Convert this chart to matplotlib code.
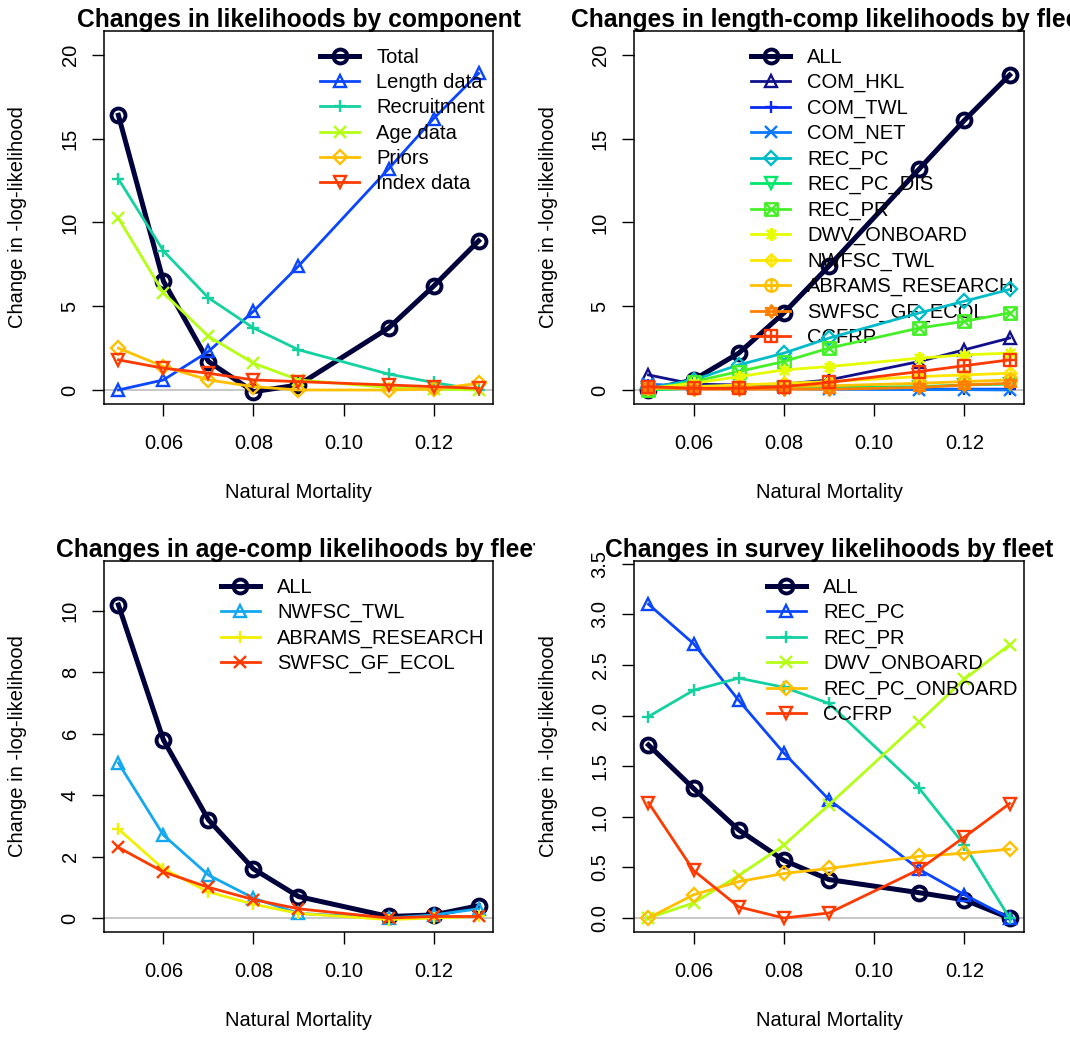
import matplotlib
matplotlib.use("Agg")
import matplotlib.pyplot as plt
from matplotlib.path import Path
from matplotlib.transforms import Bbox, TransformedBbox

plt.rcParams['font.family'] = ['Liberation Sans', 'DejaVu Sans']

# natural mortality values of the profile
M = [0.05, 0.06, 0.07, 0.08, 0.09, 0.11, 0.12, 0.13]

# panel 1: by component
comp_labels = ["Total", "Length data", "Recruitment", "Age data", "Priors", "Index data"]
comp_total = [16.4, 6.5, 1.7, -0.1, 0.3, 3.7, 6.2, 8.9]
comp_length = [0.0, 0.6, 2.3, 4.7, 7.4, 13.2, 16.2, 18.9]
comp_recr = [12.6, 8.3, 5.5, 3.7, 2.4, 0.95, 0.45, 0.0]
comp_age = [10.25, 5.8, 3.2, 1.6, 0.6, 0.15, 0.05, 0.0]
comp_priors = [2.5, 1.4, 0.6, 0.2, 0.0, 0.0, 0.05, 0.4]
comp_index = [1.8, 1.3, 1.0, 0.6, 0.5, 0.3, 0.2, 0.1]

# panel 2: length comps by fleet
len_labels = ["ALL", "COM_HKL", "COM_TWL", "COM_NET", "REC_PC", "REC_PC_DIS", "REC_PR",
              "DWV_ONBOARD", "NWFSC_TWL", "ABRAMS_RESEARCH", "SWFSC_GF_ECOL", "CCFRP"]
len_all = [0.0, 0.6, 2.2, 4.6, 7.4, 13.2, 16.1, 18.8]
len_com_hkl = [0.9, 0.35, 0.3, 0.35, 0.6, 1.7, 2.4, 3.1]
len_com_twl = [0.3, 0.25, 0.2, 0.15, 0.1, 0.05, 0.05, 0.05]
len_com_net = [0.35, 0.2, 0.15, 0.1, 0.05, 0.02, 0.02, 0.0]
len_rec_pc = [0.1, 0.6, 1.5, 2.2, 3.1, 4.6, 5.3, 6.0]
len_rec_pc_dis = [0.0, 0.1, 0.1, 0.1, 0.15, 0.2, 0.3, 0.35]
len_rec_pr = [0.0, 0.5, 1.1, 1.7, 2.5, 3.7, 4.1, 4.6]
len_dwv = [0.1, 0.4, 0.8, 1.2, 1.4, 1.9, 2.1, 2.2]
len_nwfsc = [0.1, 0.2, 0.3, 0.4, 0.5, 0.8, 0.9, 1.0]
len_abrams = [0.1, 0.1, 0.15, 0.2, 0.25, 0.4, 0.5, 0.6]
len_swfsc = [0.2, 0.05, 0.05, 0.05, 0.05, 0.15, 0.3, 0.4]
len_ccfrp = [0.2, 0.1, 0.1, 0.2, 0.45, 1.1, 1.45, 1.8]

# panel 3: age comps by fleet
age_labels = ["ALL", "NWFSC_TWL", "ABRAMS_RESEARCH", "SWFSC_GF_ECOL"]
age_all = [10.2, 5.8, 3.2, 1.6, 0.7, 0.05, 0.1, 0.4]
age_nwfsc = [5.05, 2.7, 1.4, 0.65, 0.15, 0.0, 0.1, 0.3]
age_abrams = [2.9, 1.6, 0.85, 0.45, 0.15, -0.05, 0.0, 0.05]
age_swfsc = [2.3, 1.5, 1.0, 0.6, 0.3, 0.0, 0.05, 0.05]

# panel 4: surveys by fleet
srv_labels = ["ALL", "REC_PC", "REC_PR", "DWV_ONBOARD", "REC_PC_ONBOARD", "CCFRP"]
srv_all = [1.71, 1.28, 0.87, 0.57, 0.38, 0.25, 0.18, 0.0]
srv_rec_pc = [3.1, 2.71, 2.15, 1.63, 1.17, 0.48, 0.23, 0.0]
srv_rec_pr = [1.99, 2.25, 2.37, 2.28, 2.12, 1.28, 0.72, 0.0]
srv_dwv = [0.0, 0.15, 0.42, 0.72, 1.12, 1.94, 2.36, 2.7]
srv_rec_pc_onb = [0.0, 0.23, 0.36, 0.44, 0.49, 0.61, 0.64, 0.68]
srv_ccfrp = [1.14, 0.47, 0.11, 0.0, 0.05, 0.48, 0.8, 1.13]

navy = "#00003D"
comp_colors = [navy, "#0A46FF", "#14D2A0", "#B4FF14", "#FFC000", "#FF3A00"]
len_colors = [navy, "#10108C", "#0A28F0", "#0A78FF", "#00BCC8", "#00E86A",
              "#46F028", "#E6FF00", "#FFE600", "#FFC000", "#FF8000", "#FF3A00"]
age_colors = [navy, "#14A8F0", "#F0F000", "#FF3A00"]
srv_colors = comp_colors

# R style pch symbols
MV, LN, CL = Path.MOVETO, Path.LINETO, Path.CLOSEPOLY
sq = Path([(-1, -1), (1, -1), (1, 1), (-1, 1), (-1, -1)], [MV, LN, LN, LN, CL])
xx = Path([(-1, -1), (1, 1), (-1, 1), (1, -1)], [MV, LN, MV, LN])
pl = Path([(-1.3, 0), (1.3, 0), (0, -1.3), (0, 1.3)], [MV, LN, MV, LN])
pl_sq = Path([(-1, 0), (1, 0), (0, -1), (0, 1)], [MV, LN, MV, LN])
dia = Path([(0, -1.3), (1.3, 0), (0, 1.3), (-1.3, 0), (0, -1.3)], [MV, LN, LN, LN, CL])
circ = Path.unit_circle()
tu = Path([(-1, -0.6), (1, -0.6), (0, 1.1), (-1, -0.6)], [MV, LN, LN, CL])
td = Path([(-1, 0.6), (1, 0.6), (0, -1.1), (-1, 0.6)], [MV, LN, LN, CL])
pch = ['o', '^', '+', 'x', 'D', 'v',
       Path.make_compound_path(sq, xx),
       (8, 2, 0),
       Path.make_compound_path(dia, pl),
       Path.make_compound_path(circ, pl_sq),
       Path.make_compound_path(tu, td),
       Path.make_compound_path(sq, pl_sq)]

fig = plt.figure(figsize=(10.7, 10.39), dpi=100)
W, H = 1070.0, 1039.0
fs = 14.5


def panel(box, labels, series, colors, title, ylim, yticks, yticklabels, legx, half):
    left, top, right, bottom = box
    ax = fig.add_axes([left / W, 1 - bottom / H, (right - left) / W, (bottom - top) / H])
    ax.axhline(0, color="#BEBEBE", lw=1.2, zorder=1)
    for i, (lab, y) in enumerate(zip(labels, series)):
        if i == 0:
            lw, ms, mew = 3.6, 10, 2.8
        else:
            lw, ms, mew = 2.0, 9, 1.7
        mk = pch[i]
        size = ms
        if mk == 'D':
            size = ms * 0.75
        if mk in ('+', 'x'):
            size = ms * 0.95
        ax.plot(M, y, color=colors[i], lw=lw, marker=mk, ms=size, mew=mew,
                mfc='none', mec=colors[i], label=lab, zorder=2 + i)
    ax.set_xlim(0.0468, 0.1332)
    ax.set_ylim(*ylim)
    ax.set_xticks([0.06, 0.08, 0.10, 0.12])
    ax.set_xticklabels(["0.06", "0.08", "0.10", "0.12"])
    ax.set_yticks(yticks)
    ax.set_yticklabels(yticklabels)
    ax.tick_params(direction='out', length=8.5, width=1, labelsize=fs, pad=9)
    ax.tick_params(axis='x', pad=13)
    for t in ax.get_yticklabels():
        t.set_rotation(90)
        t.set_va('center')
    for s in ax.spines.values():
        s.set_linewidth(1.1)
    ax.set_xlabel("Natural Mortality", fontsize=fs)
    ax.xaxis.label.set_va('center')
    ax.xaxis.set_label_coords(0.5, -(493 - 404) / (bottom - top))
    ax.set_ylabel("Change in -log-likelihood", fontsize=fs)
    ax.yaxis.label.set_va('center')
    ax.yaxis.set_label_coords(-(left - (18 if half == 0 else 548)) / (right - left), 0.5)
    ax.legend(loc='upper left', bbox_to_anchor=(legx, 1 - 17.0 / (bottom - top)),
              frameon=False, fontsize=fs, numpoints=1, borderpad=0, borderaxespad=0,
              handlelength=1.95, handletextpad=0.85, labelspacing=0.31)
    t = fig.text((left + right) / 2 / W, 1 - (top - 4.5) / H, title, ha='center', va='baseline',
                 fontsize=17.7, fontweight='bold', clip_on=True)
    t.set_clip_box(TransformedBbox(Bbox([[half * 0.5, 0], [half * 0.5 + 0.5, 1]]), fig.transFigure))
    return ax


panel((104, 31, 493, 404), comp_labels,
      [comp_total, comp_length, comp_recr, comp_age, comp_priors, comp_index],
      comp_colors, "Changes in likelihoods by component", (-0.836, 21.43),
      [0, 5, 10, 15, 20], ["0", "5", "10", "15", "20"], 0.555, 0)

panel((634, 31, 1024, 404), len_labels,
      [len_all, len_com_hkl, len_com_twl, len_com_net, len_rec_pc, len_rec_pc_dis,
       len_rec_pr, len_dwv, len_nwfsc, len_abrams, len_swfsc, len_ccfrp],
      len_colors, "Changes in length-comp likelihoods by fleet", (-0.836, 21.43),
      [0, 5, 10, 15, 20], ["0", "5", "10", "15", "20"], 0.300, 1)

panel((104, 561, 493, 932), age_labels,
      [age_all, age_nwfsc, age_abrams, age_swfsc],
      age_colors, "Changes in age-comp likelihoods by fleet", (-0.455, 11.63),
      [0, 2, 4, 6, 8, 10], ["0", "2", "4", "6", "8", "10"], 0.300, 0)

panel((634, 561, 1024, 932), srv_labels,
      [srv_all, srv_rec_pc, srv_rec_pr, srv_dwv, srv_rec_pc_onb, srv_ccfrp],
      srv_colors, "Changes in survey likelihoods by fleet", (-0.138, 3.527),
      [0, 0.5, 1.0, 1.5, 2.0, 2.5, 3.0, 3.5],
      ["0.0", "0.5", "1.0", "1.5", "2.0", "2.5", "3.0", "3.5"], 0.340, 1)

fig.savefig("out.png", dpi=100)
